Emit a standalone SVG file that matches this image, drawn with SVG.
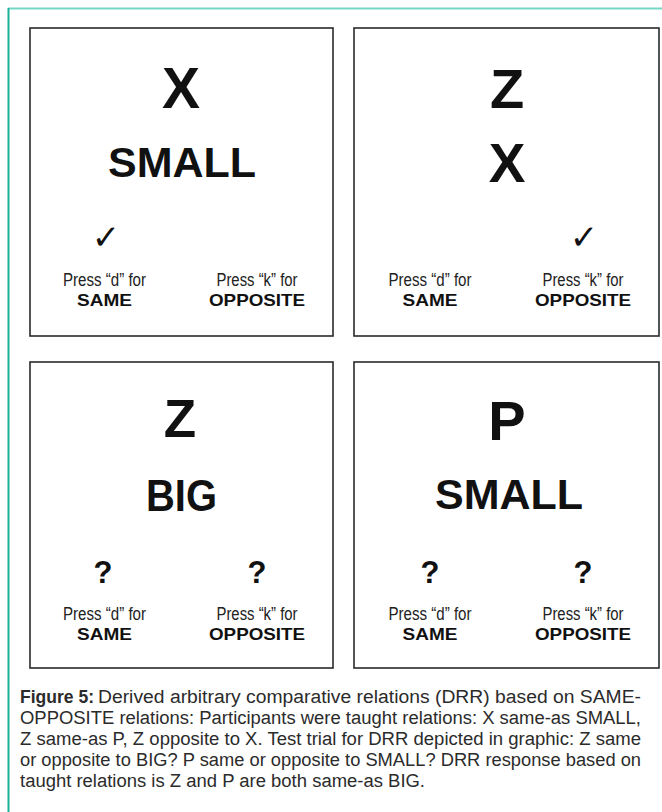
<svg xmlns="http://www.w3.org/2000/svg" width="662" height="812" viewBox="0 0 662 812">
<style>
.frame{fill:#fff;stroke:#2a2a2a;stroke-width:1.6}
.big{font-family:"Liberation Sans",Arial,sans-serif;font-weight:bold;fill:#111;text-anchor:middle}
.press{font-family:"Liberation Sans",Arial,sans-serif;font-size:17.5px;fill:#222;text-anchor:middle}
.key{font-family:"Liberation Sans",Arial,sans-serif;font-size:17px;font-weight:bold;fill:#111;text-anchor:middle}
.q{font-family:"Liberation Sans",Arial,sans-serif;font-size:31px;font-weight:bold;fill:#111;text-anchor:middle}
.chk{font-family:"DejaVu Sans",sans-serif;font-size:34px;fill:#111;text-anchor:middle}
.cap{font-family:"Liberation Sans",Arial,sans-serif;font-size:18px;fill:#2b2b2b}
</style>
<rect width="662" height="812" fill="#fff"/>
<line x1="8" y1="8.5" x2="662" y2="8.5" stroke="#74d7c5" stroke-width="2"/>
<line x1="8.5" y1="8" x2="8.5" y2="812" stroke="#1cb29a" stroke-width="2"/>

<g id="panel-tl">
<rect class="frame" x="30" y="28" width="303" height="308"/>
<text class="big" x="181" y="108" font-size="57">X</text>
<text class="big" x="182" y="177" font-size="43">SMALL</text>
<text class="chk" x="106" y="249">✓</text>
<text class="press" x="104.5" y="286" textLength="83" lengthAdjust="spacingAndGlyphs">Press “d” for</text>
<text class="key" x="104.5" y="306" textLength="55" lengthAdjust="spacingAndGlyphs">SAME</text>
<text class="press" x="257" y="286" textLength="81" lengthAdjust="spacingAndGlyphs">Press “k” for</text>
<text class="key" x="257" y="306" textLength="96" lengthAdjust="spacingAndGlyphs">OPPOSITE</text>
</g>

<g id="panel-tr">
<rect class="frame" x="354" y="28" width="305" height="308"/>
<text class="big" x="507" y="108" font-size="56">Z</text>
<text class="big" x="507" y="182" font-size="55">X</text>
<text class="chk" x="584" y="249">✓</text>
<text class="press" x="430" y="286" textLength="83" lengthAdjust="spacingAndGlyphs">Press “d” for</text>
<text class="key" x="430" y="306" textLength="55" lengthAdjust="spacingAndGlyphs">SAME</text>
<text class="press" x="583" y="286" textLength="81" lengthAdjust="spacingAndGlyphs">Press “k” for</text>
<text class="key" x="583" y="306" textLength="96" lengthAdjust="spacingAndGlyphs">OPPOSITE</text>
</g>

<g id="panel-bl">
<rect class="frame" x="30" y="362" width="303" height="306"/>
<text class="big" x="180" y="437" font-size="53">Z</text>
<text class="big" x="181.5" y="511" font-size="44" textLength="71" lengthAdjust="spacingAndGlyphs">BIG</text>
<text class="q" x="103" y="583">?</text>
<text class="q" x="257" y="583">?</text>
<text class="press" x="104.5" y="620" textLength="83" lengthAdjust="spacingAndGlyphs">Press “d” for</text>
<text class="key" x="104.5" y="640" textLength="55" lengthAdjust="spacingAndGlyphs">SAME</text>
<text class="press" x="257" y="620" textLength="81" lengthAdjust="spacingAndGlyphs">Press “k” for</text>
<text class="key" x="257" y="640" textLength="96" lengthAdjust="spacingAndGlyphs">OPPOSITE</text>
</g>

<g id="panel-br">
<rect class="frame" x="354" y="362" width="305" height="306"/>
<text class="big" x="507" y="440" font-size="56">P</text>
<text class="big" x="509" y="509" font-size="43">SMALL</text>
<text class="q" x="430" y="583">?</text>
<text class="q" x="583" y="583">?</text>
<text class="press" x="430" y="620" textLength="83" lengthAdjust="spacingAndGlyphs">Press “d” for</text>
<text class="key" x="430" y="640" textLength="55" lengthAdjust="spacingAndGlyphs">SAME</text>
<text class="press" x="583" y="620" textLength="81" lengthAdjust="spacingAndGlyphs">Press “k” for</text>
<text class="key" x="583" y="640" textLength="96" lengthAdjust="spacingAndGlyphs">OPPOSITE</text>
</g>

<g id="caption">
<text class="cap" x="20" y="703" font-weight="bold" textLength="74" lengthAdjust="spacingAndGlyphs">Figure 5:</text>
<text class="cap" x="98" y="703" textLength="543" lengthAdjust="spacingAndGlyphs">Derived arbitrary comparative relations (DRR) based on SAME-</text>
<text class="cap" x="20" y="724" textLength="621" lengthAdjust="spacingAndGlyphs">OPPOSITE relations: Participants were taught relations: X same-as SMALL,</text>
<text class="cap" x="20" y="745" textLength="621" lengthAdjust="spacingAndGlyphs">Z same-as P, Z opposite to X. Test trial for DRR depicted in graphic: Z same</text>
<text class="cap" x="20" y="766" textLength="621" lengthAdjust="spacingAndGlyphs">or opposite to BIG? P same or opposite to SMALL? DRR response based on</text>
<text class="cap" x="20" y="787" textLength="405" lengthAdjust="spacingAndGlyphs">taught relations is Z and P are both same-as BIG.</text>
</g>
</svg>
